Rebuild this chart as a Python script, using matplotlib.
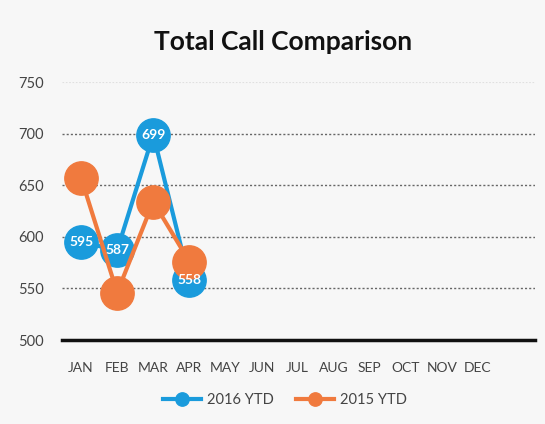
import matplotlib
matplotlib.use("Agg")
import matplotlib.pyplot as plt

plt.rcParams["font.family"] = ["Lato", "DejaVu Sans"]

months = ["JAN", "FEB", "MAR", "APR", "MAY", "JUN", "JUL", "AUG", "SEP", "OCT", "NOV", "DEC"]
ytd_2016 = [595, 587, 699, 558]
ytd_2015 = [657, 546, 634, 576]
yticks = [500, 550, 600, 650, 700, 750]

blue = "#1a9bdc"
orange = "#f07a3e"

fig = plt.figure(figsize=(5.45, 4.24), dpi=100, facecolor="#f7f7f7")
ax = fig.add_axes([62/545, 1-340/424, (535-62)/545, (340-82)/424])
ax.set_facecolor("#f7f7f7")

x16 = list(range(len(ytd_2016)))
x15 = list(range(len(ytd_2015)))
ax.plot(x16, ytd_2016, color=blue, lw=3, marker="o", ms=24, zorder=3, label="2016 YTD")
ax.plot(x15, ytd_2015, color=orange, lw=3, marker="o", ms=24, zorder=4, label="2015 YTD")
for xi, v in zip(x16, ytd_2016):
    ax.text(xi, v, str(v), color="white", ha="center", va="center", fontsize=10, fontweight="bold", zorder=6)

ax.set_xlim(-0.53, 12.58)
ax.set_ylim(500, 750)
ax.set_xticks(range(len(months)))
ax.set_xticklabels(months, fontsize=10, color="#444444")
ax.set_yticks(yticks)
ax.set_yticklabels([str(t) for t in yticks], fontsize=10.5, color="#444444")
ax.tick_params(length=0)
ax.tick_params(axis="x", pad=16)
ax.tick_params(axis="y", pad=13)
for t in yticks[1:-1]:
    ax.axhline(t, color="#666666", lw=1, ls=(0, (1.5, 1.5)), zorder=1)
ax.axhline(750, color="#e0e0e0", lw=0.8, ls=(0, (1.5, 1.5)), zorder=1)
for s in ["top", "right", "left"]:
    ax.spines[s].set_visible(False)
ax.spines["bottom"].set_color("#111111")
ax.spines["bottom"].set_linewidth(2.5)

fig.text(283/545, 1-42/424, "Total Call Comparison", ha="center", va="center", fontsize=19, fontweight="bold", color="#111111")
leg = fig.legend(loc="center", bbox_to_anchor=(285/545, 1-400/424), ncol=2, frameon=False, fontsize=10.5,
                 markerscale=0.4, handlelength=2.6, handletextpad=0.4, columnspacing=1.5)
for t in leg.get_texts():
    t.set_color("#444444")

fig.savefig("out.png", dpi=100, facecolor=fig.get_facecolor())
